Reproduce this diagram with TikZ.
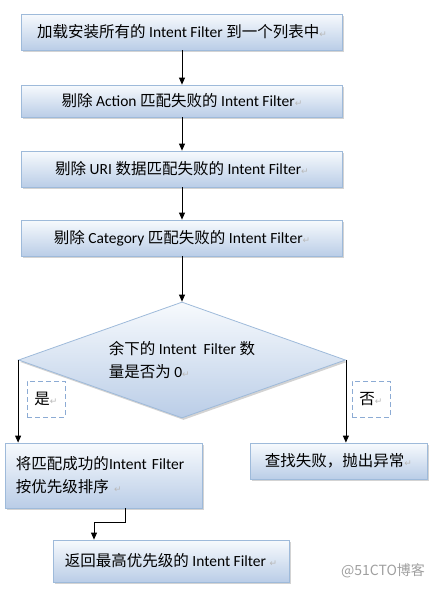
\documentclass[tikz,border=0pt]{standalone}
\usepackage{fontspec}
\setmainfont{Carlito}
\newfontfamily\zh{Noto Sans CJK SC}
\newfontfamily\sym{DejaVu Sans}
\usetikzlibrary{shapes.geometric,arrows.meta,shadows}
\definecolor{bordbleu}{RGB}{158,186,218}
\definecolor{tiret}{RGB}{140,171,212}
\definecolor{hautbleu}{RGB}{247,250,253}
\definecolor{basbleu}{RGB}{186,205,231}
\newcommand{\retour}{{\sym\fontsize{9}{9}\selectfont\color{gray!55}↵}}
\tikzset{
    etape/.style={draw=bordbleu, line width=.8pt, top color=hautbleu, bottom color=basbleu, inner sep=0pt,
        drop shadow={shadow xshift=1.5pt, shadow yshift=-2pt, opacity=.35, fill=gray}},
    fleche/.style={-{Triangle[length=7pt,width=6pt]}, black, line width=.8pt},
    choix/.style={draw=tiret, dash pattern=on 5pt off 3pt, line width=1pt, minimum width=38pt, minimum height=36pt, inner sep=0pt},
}
\begin{document}
\begin{tikzpicture}[x=1pt, y=-1pt, font=\fontsize{15.5}{23}\selectfont]
            \useasboundingbox (0,0) rectangle (443,589);
            % les etapes
            \node[etape, minimum width=321pt, minimum height=36pt] (charger) at (182,32)
                {{\zh 加载安装所有的} Intent Filter {\zh 到一个列表中}\retour};
            \node[etape, minimum width=321pt, minimum height=32pt] (action) at (182,101)
                {{\zh 剔除} Action {\zh 匹配失败的} Intent Filter\retour};
            \node[etape, minimum width=321pt, minimum height=36pt] (uri) at (182,169)
                {{\zh 剔除} URI {\zh 数据匹配失败的} Intent Filter\retour};
            \node[etape, minimum width=321pt, minimum height=36pt] (categorie) at (182,238)
                {{\zh 剔除} Category {\zh 匹配失败的} Intent Filter\retour};
            % le test
            \node[etape, diamond, aspect=2.82, minimum width=327pt, minimum height=116pt, align=left] (reste) at (182,360)
                {{\zh 余下的} Intent\ \ Filter {\zh 数}\\{\zh 量是否为} 0\retour};
            \node[choix] (oui) at (46,399) {{\zh 是}\retour};
            \node[choix] (non) at (371,399) {{\zh 否}\retour};
            % les deux branches
            \node[etape, minimum width=197pt, minimum height=65pt, text width=175pt, align=left] (trier) at (103.5,475.5)
                {{\zh 将匹配成功的}Intent Filter\\{\zh 按优先级排序} \retour};
            \node[etape, minimum width=177pt, minimum height=36pt] (echec) at (338.5,461)
                {{\zh 查找失败，抛出异常}\retour};
            \node[etape, minimum width=236pt, minimum height=42pt] (renvoyer) at (171,561)
                {{\zh 返回最高优先级的} Intent Filter \retour};
            \node[text=gray!75, font=\zh\fontsize{14}{14}\selectfont] (filigrane) at (383,571) {@51CTO博客};
            % les fleches
            \draw[fleche] (charger.south) -- (action.north);
            \draw[fleche] (action.south) -- (uri.north);
            \draw[fleche] (uri.south) -- (categorie.north);
            \draw[fleche] (categorie.south) -- (reste.north);
            \draw[fleche] (reste.west) -- (reste.west |- trier.north);
            \draw[fleche] (reste.east) -- (reste.east |- echec.north);
            \draw[fleche] ([xshift=22pt]trier.south) -- ++(0,14) -| ([xshift=-77pt]renvoyer.north);
\end{tikzpicture}
\end{document}
